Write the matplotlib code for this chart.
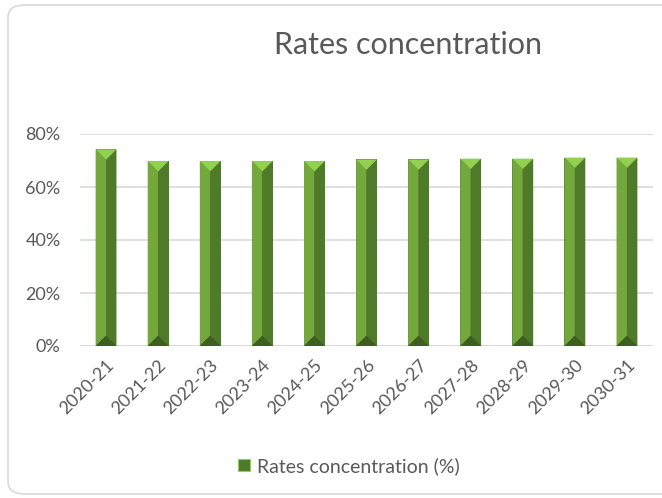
import numpy as np
import matplotlib
matplotlib.use("Agg")
import matplotlib.pyplot as plt
from matplotlib.patches import Polygon, FancyBboxPatch, Patch
from matplotlib.ticker import PercentFormatter


# =============================================================================
# Data
# =============================================================================

years = [
    "2020-21", "2021-22", "2022-23", "2023-24", "2024-25", "2025-26",
    "2026-27", "2027-28", "2028-29", "2029-30", "2030-31",
]
rates_concentration = [
    74.2, 69.8, 69.8, 69.8, 69.8, 70.4,
    70.4, 70.7, 70.7, 71.1, 71.1,
]

series_label = "Rates concentration (%)"
chart_title = "Rates concentration"


# =============================================================================
# Style
# =============================================================================

plt.rcParams["font.family"] = ["Lato", "DejaVu Sans"]
text_color = "#595959"
grid_color = "#d9d9d9"

face_left = "#74a83c"
face_right = "#4f7a2a"
face_top = "#92d050"
face_bottom = "#3d5e1f"

bar_width = 0.40


# =============================================================================
# Figure
# =============================================================================

fig = plt.figure(figsize=(6.62, 4.98), dpi=100)

frame = FancyBboxPatch(
    (8 / 662, 4 / 498),
    700 / 662,
    489 / 498,
    boxstyle="round,pad=0,rounding_size=0.025",
    transform=fig.transFigure,
    facecolor="white",
    edgecolor=grid_color,
    linewidth=1.2,
    zorder=-5,
)
fig.patches.append(frame)

ax = fig.add_axes([80 / 662, 152 / 498, 573 / 662, 212 / 498])
ax.set_facecolor("none")

x = np.arange(len(years))

ax.set_xlim(-0.5, len(years) - 0.5)
ax.set_ylim(0, 80)

ax.bar(x, rates_concentration, width=bar_width, color=face_right, zorder=2)

# bevel faces (depth equal to half the bar width in screen pixels)
half = bar_width / 2
p0 = ax.transData.transform((0, 0))
p1 = ax.transData.transform((half, 0))
px = p1[0] - p0[0]
depth = ax.transData.inverted().transform((p0[0], p0[1] + px))[1]

for c, h in zip(x, rates_concentration):
    faces = [
        ([(c - half, 0), (c - half, h), (c, h - depth), (c, depth)], face_left),
        ([(c, depth), (c, h - depth), (c + half, h), (c + half, 0)], face_right),
        ([(c - half, h), (c + half, h), (c, h - depth)], face_top),
        ([(c - half, 0), (c + half, 0), (c, depth)], face_bottom),
    ]
    for pts, col in faces:
        ax.add_patch(Polygon(pts, closed=True, facecolor=col,
                             edgecolor="none", zorder=3))

ax.set_yticks([0, 20, 40, 60, 80])
ax.yaxis.set_major_formatter(PercentFormatter(decimals=0))
ax.grid(axis="y", color=grid_color, linewidth=1.2, zorder=0)
ax.set_axisbelow(True)

for side in ["top", "right", "left", "bottom"]:
    ax.spines[side].set_visible(False)
ax.axhline(0, color=grid_color, linewidth=1.2, zorder=1)

ax.set_xticks(x)
ax.set_xticklabels(years, rotation=45, ha="right", rotation_mode="anchor")
ax.tick_params(axis="both", length=0, colors=text_color, labelsize=13)
ax.tick_params(axis="y", pad=14)
ax.tick_params(axis="x", pad=8)

fig.text(408 / 662, 1 - 45 / 498, chart_title, ha="center", va="center",
         fontsize=22, color=text_color)

handle = Patch(facecolor=face_right, edgecolor=face_top, linewidth=0.8)
fig.legend(
    [handle],
    [series_label],
    loc="center",
    bbox_to_anchor=(349 / 662, 1 - 466 / 498),
    frameon=False,
    fontsize=14,
    labelcolor=text_color,
    handlelength=0.6,
    handleheight=0.6,
    handletextpad=0.4,
)

fig.savefig("out.png", dpi=100)
